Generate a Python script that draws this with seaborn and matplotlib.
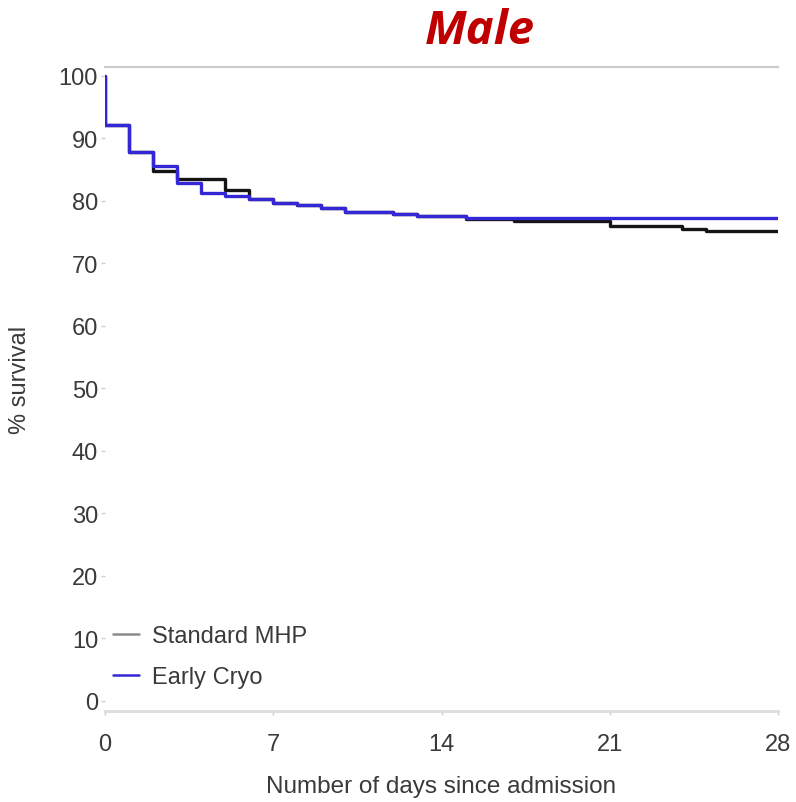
import matplotlib
matplotlib.use("Agg")
import matplotlib.pyplot as plt
import seaborn as sns
import pandas as pd

# Kaplan-Meier style survival steps (% surviving) by day since admission
days_standard = [0, 0, 1, 2, 3, 5, 6, 7, 8, 9, 10, 12, 13, 15, 17, 21, 24, 25, 28]
surv_standard = [100, 92.1, 87.8, 84.8, 83.5, 81.8, 80.3, 79.6, 79.3, 78.8,
                 78.2, 77.9, 77.5, 77.1, 76.8, 76.0, 75.5, 75.2, 75.2]

days_cryo = [0, 0, 1, 2, 3, 4, 5, 6, 7, 8, 9, 10, 12, 13, 15, 28]
surv_cryo = [100, 92.1, 87.8, 85.6, 82.9, 81.2, 80.8, 80.3, 79.7, 79.3,
             78.8, 78.2, 77.9, 77.6, 77.3, 77.3]

groups = ["Standard MHP", "Early Cryo"]
x_ticks = [0, 7, 14, 21, 28]
y_ticks = [0, 10, 20, 30, 40, 50, 60, 70, 80, 90, 100]

df = pd.concat([
    pd.DataFrame({"day": days_standard, "survival": surv_standard, "group": groups[0]}),
    pd.DataFrame({"day": days_cryo, "survival": surv_cryo, "group": groups[1]}),
], ignore_index=True)

sns.set_theme(style="white")
plt.rcParams["font.family"] = ["Liberation Sans", "DejaVu Sans"]

text_col = "#3a3a3a"
fig = plt.figure(figsize=(7.96, 8.03), dpi=100)
ax = fig.add_axes([105 / 796, 1 - 712 / 803, 673 / 796, 644 / 803])

sns.lineplot(data=df, x="day", y="survival", hue="group", hue_order=groups,
             palette={"Standard MHP": "#151515", "Early Cryo": "#3327d6"},
             estimator=None, sort=False, drawstyle="steps-post",
             linewidth=2.4, ax=ax)

ax.set_xlim(0, 28)
ax.set_ylim(-1.6, 101.4)
ax.set_xticks(x_ticks)
ax.set_yticks(y_ticks)
ax.tick_params(axis="both", labelsize=17, colors="#cfcfcf", labelcolor=text_col)
ax.tick_params(axis="y", left=True, length=3, width=1, pad=2)
ax.tick_params(axis="x", bottom=True, length=3, width=1, pad=13)

for side in ("left", "right"):
    ax.spines[side].set_visible(False)
ax.spines["top"].set_color("#cccccc")
ax.spines["top"].set_linewidth(1.6)
ax.spines["bottom"].set_color("#dddddd")
ax.spines["bottom"].set_linewidth(2)

ax.set_xlabel("Number of days since admission", fontsize=17.5, color=text_col)
ax.set_ylabel("% survival", fontsize=17, color=text_col)
ax.xaxis.set_label_coords(0.5, -0.099)
ax.yaxis.set_label_coords(-0.110, 0.5155)

leg = ax.legend(loc="upper left", bbox_to_anchor=(0.012, 0.133), frameon=False,
                fontsize=17, handlelength=1.1, handletextpad=0.55,
                labelspacing=0.78, borderpad=0, borderaxespad=0)
for t in leg.get_texts():
    t.set_color(text_col)
leg_colors = ["#8a8a8a", "#3327d6"]
for h, c in zip(leg.get_lines(), leg_colors):
    h.set_linewidth(1.8)
    h.set_color(c)

fig.text(480 / 796, 1 - 32 / 803, "Male", ha="center", va="center",
         fontsize=34, fontweight="bold", fontstyle="italic", color="#c00000",
         family=["Open Sans", "DejaVu Sans"])

fig.savefig("out.png", dpi=100, facecolor="white")
